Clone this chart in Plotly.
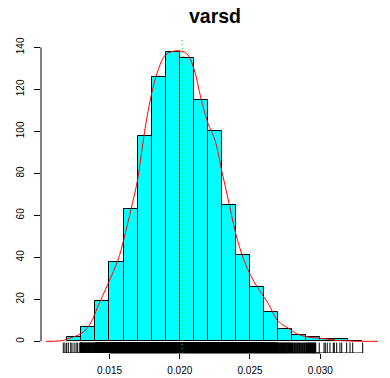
import plotly.graph_objects as go

# ---------------- data ----------------
bin_start = 0.012
bin_width = 0.001
counts = [2, 7, 19, 38, 63, 98, 126, 138, 135, 115, 100, 65, 41, 26, 14, 6, 3, 2, 1, 1, 0]

dens_x = [0.01048, 0.0112, 0.0117, 0.0120, 0.0125, 0.0130, 0.0134, 0.0138, 0.0141, 0.0145,
          0.0150, 0.0156, 0.0160, 0.0165, 0.0170, 0.0175, 0.0180, 0.0185, 0.0190, 0.0198,
          0.0205, 0.0210, 0.0215, 0.0220, 0.0225, 0.0230, 0.0235, 0.0240, 0.0245, 0.0250,
          0.0256, 0.0263, 0.0269, 0.0273, 0.0278, 0.0283, 0.0292, 0.0302, 0.0311, 0.0321, 0.0341]
dens_y = [0.0, 0.1, 0.4, 1.2, 2.2, 3.8, 6.2, 10.5, 15.5, 21.5,
          29.0, 38.6, 48.0, 62.0, 77.0, 100.0, 118.0, 130.0, 136.5, 138.4,
          137.0, 130.0, 116.0, 104.0, 96.0, 81.0, 66.0, 51.0, 40.0, 32.0,
          25.0, 18.0, 10.5, 8.0, 6.0, 3.7, 2.0, 1.3, 0.5, 0.15, 0.0]

rug_left = [0.01171, 0.01183, 0.01195, 0.01207, 0.01224, 0.01233, 0.01248, 0.01262,
            0.01271, 0.01285, 0.01295]
rug_right = [0.02993, 0.03027, 0.03036, 0.0305, 0.03069, 0.03093, 0.0310, 0.03117,
             0.0314, 0.03153, 0.03188, 0.03212, 0.03231, 0.03302]
rug_dense_from = 0.0130
rug_dense_to = 0.0297

mean_line = 0.02018

x_ticks = [0.015, 0.020, 0.025, 0.030]
y_ticks = [0, 20, 40, 60, 80, 100, 120, 140]

title = "varsd"

# ---------------- derived ----------------
centers = [bin_start + bin_width * (i + 0.5) for i in range(len(counts))]

# dense part of the rug, spread according to the bin counts
rug_dense = []
for i, c in enumerate(counts):
    lo = bin_start + bin_width * i
    hi = lo + bin_width
    lo2, hi2 = max(lo, rug_dense_from), min(hi, rug_dense_to)
    if hi2 <= lo2:
        continue
    n = max(int(c * 5 * (hi2 - lo2) / bin_width), 20)
    for k in range(n):
        rug_dense.append(lo2 + (hi2 - lo2) * (k + 0.5) / n)
rug_values = sorted(rug_left + rug_dense + rug_right)

YMIN, YMAX = -5.55, 144.0
RUG_TOP = -0.6
XMIN, XMAX = 0.010125, 0.034823

rx, ry = [], []
for v in rug_values:
    rx += [v, v, None]
    ry += [RUG_TOP, YMIN, None]
rx += [min(rug_values), max(rug_values)]
ry += [YMIN, YMIN]

fig = go.Figure()
fig.add_trace(go.Bar(x=centers, y=counts, width=bin_width,
                     marker=dict(color="#00FFFF", line=dict(color="black", width=1)),
                     hoverinfo="skip"))
fig.add_trace(go.Scatter(x=dens_x, y=dens_y, mode="lines", line=dict(color="red", width=1, shape="spline"),
                         hoverinfo="skip"))
fig.add_trace(go.Scatter(x=rx, y=ry, mode="lines", line=dict(color="black", width=1),
                         hoverinfo="skip"))

fig.add_shape(type="line", xref="x", yref="paper", x0=mean_line, x1=mean_line, y0=0, y1=1,
              line=dict(color="rgb(0,220,0)", width=1, dash="1px,3px"))
# R-style y axis line (only between first and last tick)
fig.add_shape(type="line", xref="paper", yref="y", x0=0, x1=0, y0=min(y_ticks), y1=max(y_ticks),
              line=dict(color="black", width=1))
# R-style x axis line (between first and last tick)
fig.add_shape(type="line", xref="x", yref="paper", x0=min(x_ticks), x1=max(x_ticks), y0=0, y1=0,
              line=dict(color="black", width=1))

fig.update_layout(
    width=390, height=378,
    margin=dict(l=41, r=2, t=39, b=25, pad=0),
    paper_bgcolor="white", plot_bgcolor="white",
    showlegend=False, bargap=0,
    font=dict(family="Liberation Sans, Arial, sans-serif", size=10, color="black"),
    title=dict(text="<b>" + title + "</b>", xref="container", yref="container",
               x=215 / 390, xanchor="center", y=1 - 16 / 378, yanchor="middle",
               font=dict(size=19.5, color="black", family="Liberation Sans, Arial, sans-serif")),
    xaxis=dict(range=[XMIN, XMAX], tickvals=x_ticks, ticktext=[f"{v:.3f}" for v in x_ticks],
               ticks="outside", ticklen=5, tickcolor="black", showgrid=False, zeroline=False,
               showline=False, tickfont=dict(size=10), ticklabelstandoff=3),
    yaxis=dict(range=[YMIN, YMAX], tickvals=y_ticks, ticks="outside", ticklen=6, tickcolor="black",
               showgrid=False, zeroline=False, showline=False, tickangle=-90,
               tickfont=dict(size=10), ticklabelstandoff=6),
)

fig.write_html("out.html")
